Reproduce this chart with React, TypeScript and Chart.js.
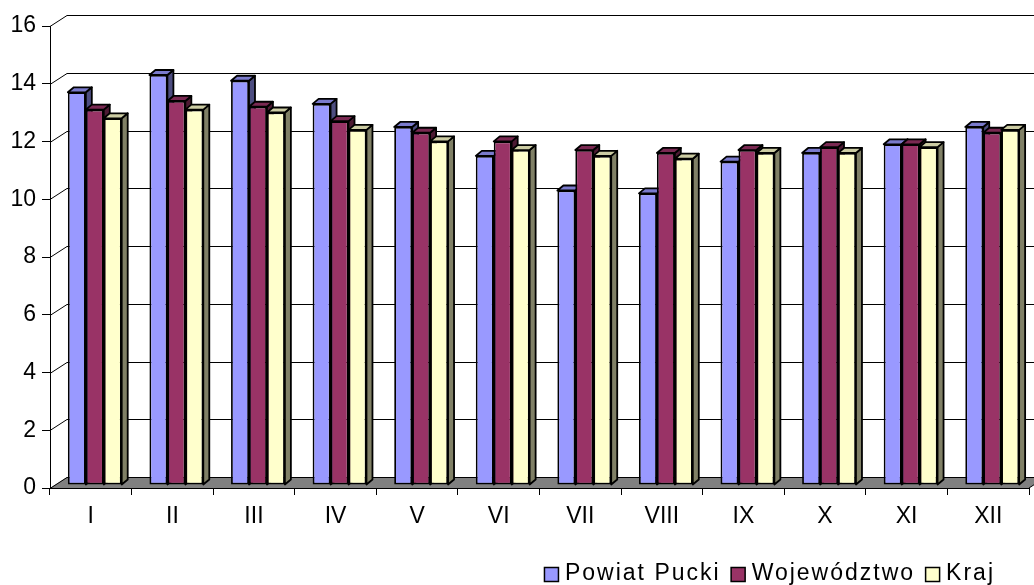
import React, { useEffect, useRef } from 'react';
import { Chart, registerables } from 'chart.js';

Chart.register(...registerables);

const categories = ['I', 'II', 'III', 'IV', 'V', 'VI', 'VII', 'VIII', 'IX', 'X', 'XI', 'XII'];
const powiatPucki = [13.6, 14.2, 14.0, 13.2, 12.4, 11.4, 10.2, 10.1, 11.2, 11.5, 11.8, 12.4];
const wojewodztwo = [13.0, 13.3, 13.1, 12.6, 12.2, 11.9, 11.6, 11.5, 11.6, 11.7, 11.8, 12.2];
const kraj = [12.7, 13.0, 12.9, 12.3, 11.9, 11.6, 11.4, 11.3, 11.5, 11.5, 11.7, 12.3];
const seriesNames = ['Powiat Pucki', 'Województwo', 'Kraj'];
const frontColors = ['#9999FF', '#993366', '#FFFFCC'];
const topColors = ['#7A7ACC', '#7A2952', '#CCCCA3'];
const sideColors = ['#4D4D80', '#4D1A33', '#808066'];
const yMin = 0;
const yMax = 16;
const yStep = 2;

const FONT = '"Liberation Sans", Arial, sans-serif';
const FONT_SIZE = 23;
const WALL_DX = 17;
const WALL_DY = -11;
const BAR_DX = 4;
const BAR_DY = -3;
const DEPTH_DX = 6;
const DEPTH_DY = -5;
const EDGE = 1.8;

const wallPlugin = {
  id: 'wall3d',
  beforeDraw(chart: any) {
    const { ctx, chartArea, scales } = chart;
    const { left, right, bottom } = chartArea;
    const ys = scales.y;
    ctx.save();
    ctx.fillStyle = '#808080';
    ctx.beginPath();
    ctx.moveTo(left, bottom);
    ctx.lineTo(right, bottom);
    ctx.lineTo(right + WALL_DX, bottom + WALL_DY);
    ctx.lineTo(left + WALL_DX, bottom + WALL_DY);
    ctx.closePath();
    ctx.fill();
    ctx.strokeStyle = '#000';
    ctx.lineWidth = 1;
    ctx.beginPath();
    ctx.moveTo(right, bottom);
    ctx.lineTo(right + WALL_DX, bottom + WALL_DY);
    ctx.stroke();
    for (let v = yMin; v <= yMax; v += yStep) {
      const py = Math.round(ys.getPixelForValue(v)) + 0.5;
      ctx.beginPath();
      ctx.moveTo(left, py);
      ctx.lineTo(left + WALL_DX, py + WALL_DY);
      ctx.lineTo(chart.width + 20, py + WALL_DY);
      ctx.stroke();
    }
    ctx.restore();
  },
};

const barsPlugin = {
  id: 'bars3d',
  beforeDatasetsDraw(chart: any) {
    const { ctx } = chart;
    ctx.save();
    ctx.translate(BAR_DX, BAR_DY);
    ctx.strokeStyle = '#000';
    ctx.lineWidth = EDGE;
    ctx.lineJoin = 'round';
    const bars: any[] = [];
    chart.data.datasets.forEach((ds: any, di: number) => {
      const meta = chart.getDatasetMeta(di);
      meta.data.forEach((el: any) => {
        const p = el.getProps(['x', 'y', 'base', 'width'], true);
        bars.push({ di, l: p.x - p.width / 2, r: p.x + p.width / 2, t: p.y, b: p.base });
      });
    });
    bars.forEach((bb) => {
      ctx.fillStyle = sideColors[bb.di];
      ctx.beginPath();
      ctx.moveTo(bb.r, bb.t);
      ctx.lineTo(bb.r + DEPTH_DX, bb.t + DEPTH_DY);
      ctx.lineTo(bb.r + DEPTH_DX, bb.b + DEPTH_DY);
      ctx.lineTo(bb.r, bb.b);
      ctx.closePath();
      ctx.fill();
      ctx.stroke();
    });
    bars.forEach((bb) => {
      ctx.fillStyle = topColors[bb.di];
      ctx.beginPath();
      ctx.moveTo(bb.l, bb.t);
      ctx.lineTo(bb.l + DEPTH_DX, bb.t + DEPTH_DY);
      ctx.lineTo(bb.r + DEPTH_DX, bb.t + DEPTH_DY);
      ctx.lineTo(bb.r, bb.t);
      ctx.closePath();
      ctx.fill();
      ctx.stroke();
    });
  },
  afterDatasetsDraw(chart: any) {
    chart.ctx.restore();
  },
};

const legendPlugin = {
  id: 'customLegend',
  afterDraw(chart: any) {
    const { ctx } = chart;
    ctx.save();
    ctx.font = `${FONT_SIZE}px ${FONT}`;
    (ctx as any).letterSpacing = '2px';
    ctx.textBaseline = 'middle';
    ctx.textAlign = 'left';
    const box = 14;
    const gapText = 7;
    const gapItem = 10;
    const items = chart.data.datasets.map((ds: any) => ({
      label: ds.label,
      color: ds.backgroundColor,
      w: ctx.measureText(ds.label).width,
    }));
    let total = 0;
    items.forEach((it: any, i: number) => {
      total += box + gapText + it.w + (i < items.length - 1 ? gapItem : 0);
    });
    const rightEnd = 995;
    let x = rightEnd - total;
    const cy = 574;
    items.forEach((it: any) => {
      ctx.fillStyle = it.color;
      ctx.fillRect(x + 0.5, cy - box / 2 + 0.5, box, box);
      ctx.strokeStyle = '#000';
      ctx.lineWidth = 1.5;
      ctx.strokeRect(x + 0.5, cy - box / 2 + 0.5, box, box);
      x += box + gapText;
      ctx.fillStyle = '#000';
      ctx.fillText(it.label, x, cy);
      x += it.w + gapItem;
    });
    ctx.restore();
  },
};

export default function App() {
  const canvasRef = useRef<HTMLCanvasElement | null>(null);

  useEffect(() => {
    if (!canvasRef.current) return;
    const seriesValues = [powiatPucki, wojewodztwo, kraj];
    const chart = new Chart(canvasRef.current, {
      type: 'bar',
      data: {
        labels: categories,
        datasets: seriesValues.map((vals, i) => ({
          label: seriesNames[i],
          data: vals,
          backgroundColor: frontColors[i],
          borderColor: '#000',
          borderWidth: EDGE,
          borderSkipped: false,
          barPercentage: 1,
          categoryPercentage: 0.66,
          clip: false as any,
        })),
      },
      options: {
        responsive: false,
        animation: false,
        layout: { padding: { left: 0, right: 5, top: 26, bottom: 0 } },
        plugins: {
          legend: { display: false },
          tooltip: { enabled: false },
        },
        scales: {
          x: {
            offset: true,
            grid: { drawOnChartArea: false, tickLength: 7, color: '#000', offset: true },
            border: { color: '#000', width: 1 },
            ticks: { color: '#000', font: { family: FONT, size: FONT_SIZE }, padding: 8, maxRotation: 0, autoSkip: false },
            afterFit(scale: any) {
              scale.height = 97;
            },
          },
          y: {
            min: yMin,
            max: yMax,
            ticks: { stepSize: yStep, color: '#000', font: { family: FONT, size: FONT_SIZE }, padding: 6 },
            grid: { drawOnChartArea: false, tickLength: 8, color: '#000' },
            border: { color: '#000', width: 1 },
            afterFit(scale: any) {
              scale.width = 50;
            },
          },
        },
      },
      plugins: [wallPlugin, barsPlugin, legendPlugin],
    });
    return () => chart.destroy();
  }, []);

  return (
    <div style={{ position: 'fixed', left: 0, top: 0, width: 1034, height: 585, background: '#fff' }}>
      <canvas ref={canvasRef} width={1034} height={585} style={{ display: 'block' }} />
    </div>
  );
}
